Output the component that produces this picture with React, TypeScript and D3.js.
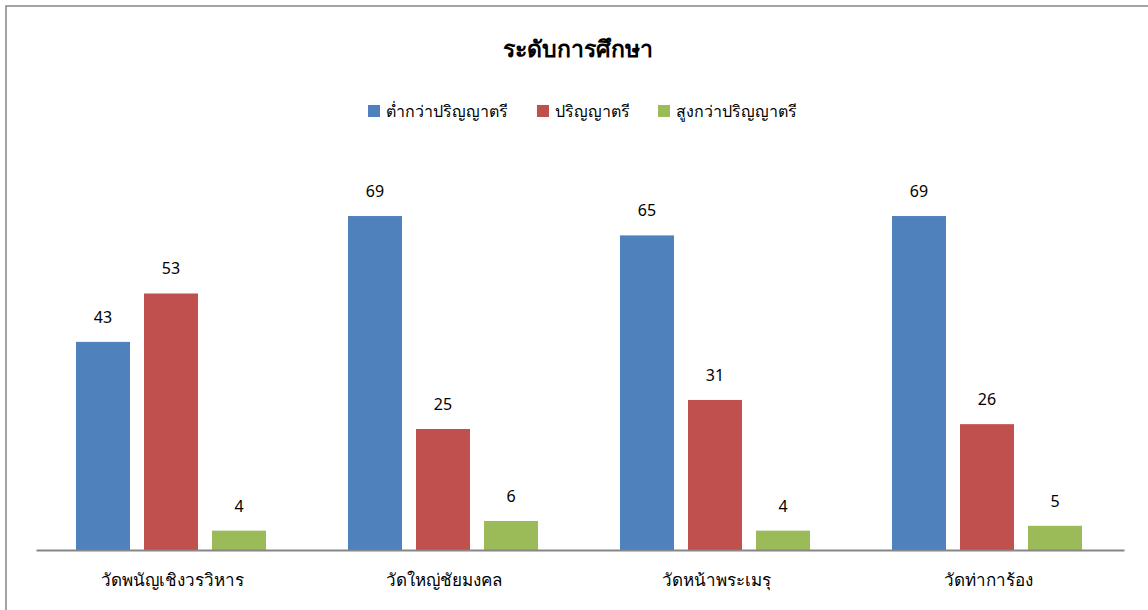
import React, { useEffect, useRef } from "react";
import * as d3 from "d3";

const categories = ["วัดพนัญเชิงวรวิหาร", "วัดใหญ่ชัยมงคล", "วัดหน้าพระเมรุ", "วัดท่าการ้อง"];
const seriesNames = ["ต่ำกว่าปริญญาตรี", "ปริญญาตรี", "สูงกว่าปริญญาตรี"];
const belowBachelor = [43, 69, 65, 69];
const bachelor = [53, 25, 31, 26];
const aboveBachelor = [4, 6, 4, 5];
const colors = ["#4f81bd", "#c0504d", "#9bbb59"];

const FONT = "Tahoma, 'Noto Sans', 'DejaVu Sans', sans-serif";

export default function App() {
  const ref = useRef<SVGSVGElement | null>(null);

  useEffect(() => {
    document.body.style.margin = "0";
    const svg = d3.select(ref.current);
    svg.selectAll("*").remove();

    const values = [belowBachelor, bachelor, aboveBachelor];

    // outer frame (runs past right/bottom edge)
    svg.append("rect")
      .attr("x", 6).attr("y", 6)
      .attr("width", 1160).attr("height", 620)
      .attr("fill", "white")
      .attr("stroke", "#868686")
      .attr("stroke-width", 1.5);

    const x0 = d3.scaleBand<string>().domain(categories).range([36, 1124]);
    const x1 = d3.scaleBand<string>()
      .domain(seriesNames)
      .range([33, 237])
      .paddingInner(14 / 68)
      .paddingOuter(7 / 68);
    const y = d3.scaleLinear().domain([0, 80]).range([550, 550 - 80 * 4.84]);

    // title
    svg.append("text")
      .attr("x", 578).attr("y", 57)
      .attr("text-anchor", "middle")
      .style("font-family", FONT)
      .style("font-size", "23px")
      .style("font-weight", "bold")
      .attr("fill", "#000")
      .text("ระดับการศึกษา");

    // legend
    const legendX = [368, 537, 658];
    const legend = svg.append("g");
    seriesNames.forEach((name, i) => {
      legend.append("rect")
        .attr("x", legendX[i]).attr("y", 105)
        .attr("width", 12).attr("height", 12)
        .attr("fill", colors[i]);
      legend.append("text")
        .attr("x", legendX[i] + 18).attr("y", 117)
        .style("font-family", FONT)
        .style("font-size", "16px")
        .attr("fill", "#000")
        .text(name);
    });

    // bars
    const groups = svg.selectAll("g.grp")
      .data(categories)
      .enter()
      .append("g")
      .attr("class", "grp")
      .attr("transform", d => `translate(${x0(d)},0)`);

    groups.each(function (cat, ci) {
      const g = d3.select(this);
      seriesNames.forEach((s, si) => {
        const v = values[si][ci];
        g.append("rect")
          .attr("x", x1(s)!)
          .attr("y", y(v))
          .attr("width", x1.bandwidth())
          .attr("height", y(0) - y(v))
          .attr("fill", colors[si]);
        g.append("text")
          .attr("x", x1(s)! + x1.bandwidth() / 2)
          .attr("y", y(v) - 19)
          .attr("text-anchor", "middle")
          .style("font-family", FONT)
          .style("font-size", "16px")
          .attr("fill", "#000")
          .text(v);
      });
    });

    // x axis
    const xAxis = svg.append("g")
      .attr("transform", `translate(0,${y(0)})`)
      .call(d3.axisBottom(x0).tickSize(0).tickPadding(24));
    xAxis.select(".domain").attr("stroke", "#868686").attr("stroke-width", 2);
    xAxis.selectAll("text")
      .style("font-family", FONT)
      .style("font-size", "17px")
      .attr("fill", "#000");
  }, []);

  return <svg ref={ref} width={1148} height={610} style={{ display: "block" }} />;
}
